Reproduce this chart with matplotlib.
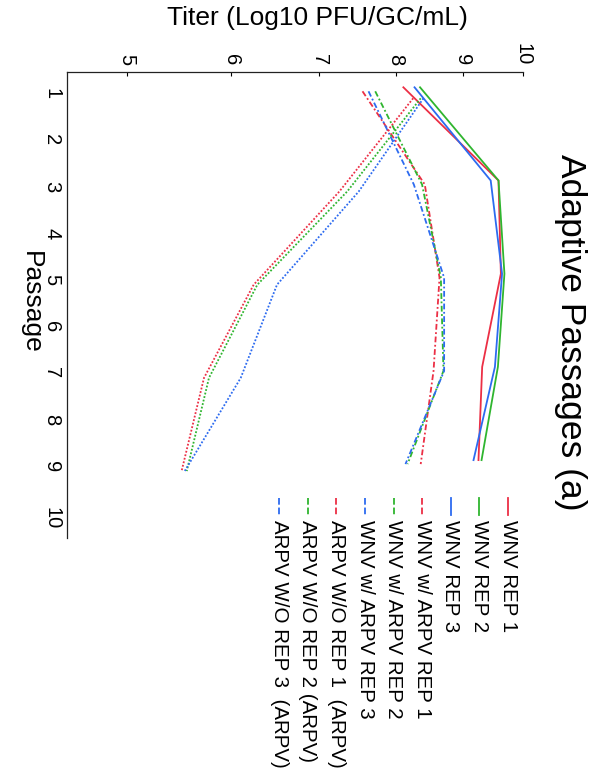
import matplotlib
matplotlib.use("Agg")
import matplotlib.pyplot as plt
import matplotlib.transforms as mtransforms
from matplotlib.lines import Line2D
from matplotlib.ticker import NullLocator

plt.rcParams['font.family'] = ['Liberation Sans', 'DejaVu Sans']

# passages sampled
passages = [1, 3, 5, 7, 9]

# titer values (log10 PFU/GC/mL)
wnv_rep1 = [8.11, 9.58, 9.62, 9.31, 9.25]
wnv_rep2 = [8.35, 9.58, 9.68, 9.57, 9.30]
wnv_rep3 = [8.27, 9.45, 9.64, 9.52, 9.17]
wnv_arpv_rep1 = [7.55, 8.42, 8.64, 8.55, 8.36]
wnv_arpv_rep2 = [7.72, 8.38, 8.66, 8.70, 8.17]
wnv_arpv_rep3 = [7.63, 8.26, 8.71, 8.71, 8.14]
arpv_rep1 = [8.25, 7.25, 6.24, 5.72, 5.50]
arpv_rep2 = [8.36, 7.35, 6.28, 5.77, 5.55]
arpv_rep3 = [8.40, 7.50, 6.50, 6.10, 5.53]

labels = ['WNV REP 1', 'WNV REP 2', 'WNV REP 3',
          'WNV w/ ARPV REP 1', 'WNV w/ ARPV REP 2', 'WNV w/ ARPV REP 3',
          'ARPV W/O REP 1  (ARPV)', 'ARPV W/O REP 2 (ARPV)', 'ARPV W/O REP 3  (ARPV)']
series = [wnv_rep1, wnv_rep2, wnv_rep3,
          wnv_arpv_rep1, wnv_arpv_rep2, wnv_arpv_rep3,
          arpv_rep1, arpv_rep2, arpv_rep3]

titer_ticks = [5, 6, 7, 8, 9, 10]
passage_ticks = list(range(1, 11))

RED, GREEN, BLUE = '#ec2f45', '#2fb52f', '#2d6bf0'
colors = [RED, GREEN, BLUE] * 3
solid = '-'
dashdot = (0, (3.2, 1.4, 1.0, 1.4))
dotted = (0, (1.0, 1.0))
styles = [solid] * 3 + [dashdot] * 3 + [dotted] * 3
shifts = [0.08] * 3 + [0.04] * 3 + [-0.03] * 3   # small vertical nudge (inches)

fig = plt.figure(figsize=(5.99, 7.77), dpi=100)
fig.patch.set_facecolor('white')
ax = fig.add_axes([67 / 599, 1 - 538 / 777, (523 - 67) / 599, (538 - 72) / 777])

# chart is drawn rotated: titer along the top, passage running downwards
lines = []
for vals, col, ls, dy in zip(series, colors, styles, shifts):
    tr = ax.transData + mtransforms.ScaledTranslation(0, dy, fig.dpi_scale_trans)
    ln, = ax.plot(vals, passages, color=col, linestyle=ls, lw=1.3, transform=tr,
                  solid_joinstyle='miter')
    lines.append(ln)

ax.set_xscale('log')
ax.set_xlim(4.5, 10)
ax.set_ylim(10.5, 0.5)
ax.xaxis.set_minor_locator(NullLocator())
ax.set_xticks(titer_ticks)
ax.set_xticklabels([str(t) for t in titer_ticks], rotation=-90)
ax.set_yticks(passage_ticks)
ax.set_yticklabels([str(p) for p in passage_ticks], rotation=-90)
ax.xaxis.tick_top()
ax.tick_params(axis='x', direction='in', length=3, width=0.8, pad=5, labelsize=14.5)
ax.tick_params(axis='y', length=0, pad=4, labelsize=14.5)

for side in ['bottom', 'right']:
    ax.spines[side].set_visible(False)
for side in ['top', 'left']:
    ax.spines[side].set_linewidth(0.9)
    ax.spines[side].set_color('#222222')

# axis labels and title
fig.text(317 / 599, 1 - 18 / 777, 'Titer (Log10 PFU/GC/mL)', ha='center', va='center',
         fontsize=19)
fig.text(31 / 599, 1 - 302 / 777, 'Passage', ha='center', va='center',
         rotation=-90, fontsize=19)
fig.text(571 / 599, 1 - 332 / 777, 'Adaptive Passages (a)', ha='center', va='center',
         rotation=-90, fontsize=25.5)

# legend, columns reading downwards
leg_x0, leg_step = 508, 28.6
for i, (ln, lab) in enumerate(zip(lines, labels)):
    xf = (leg_x0 - i * leg_step) / 599
    fig.add_artist(Line2D([xf, xf], [1 - 498 / 777, 1 - 515 / 777],
                          transform=fig.transFigure, color=ln.get_color(),
                          linestyle=ln.get_linestyle(), lw=1.3))
    fig.text(xf, 1 - 520 / 777, lab, ha='center', va='top', rotation=-90,
             fontsize=14.8)

fig.savefig('out.png', dpi=100)
